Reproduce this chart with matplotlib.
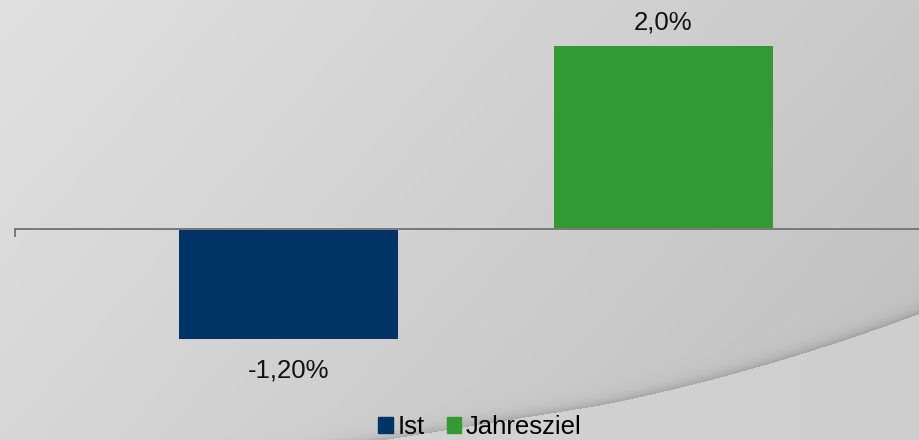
import numpy as np
import matplotlib.pyplot as plt
from matplotlib.patches import Rectangle

plt.rcParams['font.family'] = ['Liberation Sans', 'DejaVu Sans']

# data
series = ['Ist', 'Jahresziel']
values = [-1.20, 2.0]
labels = ['-1,20%', '2,0%']
colors = ['#003366', '#339933']

W, H = 920, 440
fig = plt.figure(figsize=(9.2, 4.4), dpi=100)

# background: grey gradient with a curved swoosh bottom right
bg = fig.add_axes([0, 0, 1, 1], zorder=-1)
xx, yy = np.meshgrid(np.arange(W), np.arange(H))
base = 225 - 24 * xx / W - 10 * yy / H
u = xx - 600
curve = np.where(u >= 0, 405 - 0.2019 * u - 2.676e-4 * u ** 2, 405 - 0.16 * u)
above = yy < curve
dist = curve - yy
shade = np.where(above, 34 * np.exp(-dist / 6.0), 0)
below = 214 - 8 * xx / W
img = np.where(above, base - shade, below) / 255.0
bg.imshow(np.dstack([img, img, img]), extent=[0, W, H, 0], aspect='auto')
bg.axis('off')

# main chart
ax = fig.add_axes([15 / W, 0, (W - 15) / W, 1])
ax.patch.set_alpha(0)
xpos = np.arange(len(series))
ax.bar(xpos, values, width=0.584, color=colors)
ax.set_xlim(-0.7293, 1.684)
ax.set_ylim(-2.306, 2.503)

for x, v, lab in zip(xpos, values, labels):
    off = 12.2 if v > 0 else -28
    ax.annotate(lab, (x, v), xytext=(0, off), textcoords='offset points',
                ha='center', va='baseline', fontsize=18.5, color='#111111')

for s in ['top', 'right', 'left']:
    ax.spines[s].set_visible(False)
ax.spines['bottom'].set_position(('data', 0))
ax.spines['bottom'].set_color('#7a7a7a')
ax.spines['bottom'].set_linewidth(1.44)
ax.set_xticks([ax.get_xlim()[0]])
ax.set_xticklabels([''])
ax.tick_params(axis='x', direction='out', length=5.8, width=1.44, color='#7a7a7a')
ax.set_yticks([])

handles = [Rectangle((0, 0), 1, 1, color=c) for c in colors]
fig.legend(handles, series, loc='center', bbox_to_anchor=(480 / W, 13 / H),
           ncol=2, frameon=False, fontsize=18.5, handlelength=0.55,
           handleheight=0.55, handletextpad=0.2, columnspacing=0.85,
           borderpad=0, borderaxespad=0)

fig.savefig('out.png', dpi=100)
